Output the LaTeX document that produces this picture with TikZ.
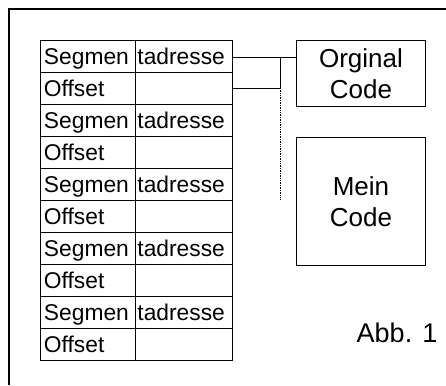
\documentclass[tikz,border=0pt]{standalone}
\usepackage{fontspec}
\setmainfont{Liberation Sans}
\begin{document}
\begin{tikzpicture}[x=1pt,y=-1pt,
  every node/.style={font=\fontsize{22.8}{26}\selectfont},
  cell/.style={draw,line width=0.9pt,minimum height=32pt,inner sep=0pt,anchor=north west,align=left,text depth=0pt},
  lcell/.style={cell,minimum width=95pt,text width=92pt},
  rcell/.style={cell,minimum width=97pt,text width=95pt},
  box/.style={draw,line width=0.9pt,anchor=north west,align=center,inner sep=0pt,font=\fontsize{26}{31}\selectfont},
  conn/.style={line width=0.9pt}]
\useasboundingbox (0,0) rectangle (446,385);
% frame
\draw[line width=2pt] (9,385) -- (9,9) -- (446,9);
% table
\foreach \i in {0,...,4}{
  \pgfmathsetmacro{\ya}{40+64*\i}
  \pgfmathsetmacro{\yb}{72+64*\i}
  \node[lcell] (s\i) at (40,\ya) {\hspace*{2pt}Segmen};
  \node[rcell] (t\i) at (135,\ya) {\hspace*{1pt}tadresse};
  \node[lcell] (o\i) at (40,\yb) {\hspace*{2pt}Offset};
  \node[rcell] (p\i) at (135,\yb) {};
}
% boxes
\node[box,minimum width=129pt,minimum height=66pt] (oc) at (296,40) {Orginal\\Code};
\node[box,minimum width=129pt,minimum height=128pt] (mc) at (296,137) {Mein\\Code};
\node[font=\fontsize{27}{31}\selectfont] (abb) at (397,333) {Abb. 1};
% connectors
\coordinate (ja) at (280,57);
\coordinate (jb) at (280,88);
\coordinate (jc) at (280,200);
\draw[conn] (t0.east |- ja) -- (oc.west |- ja);
\draw[conn] (p0.east |- jb) -- (jb) -- (ja);
\draw[line width=0.7pt,densely dotted] (jb) -- (jc);
\end{tikzpicture}
\end{document}
